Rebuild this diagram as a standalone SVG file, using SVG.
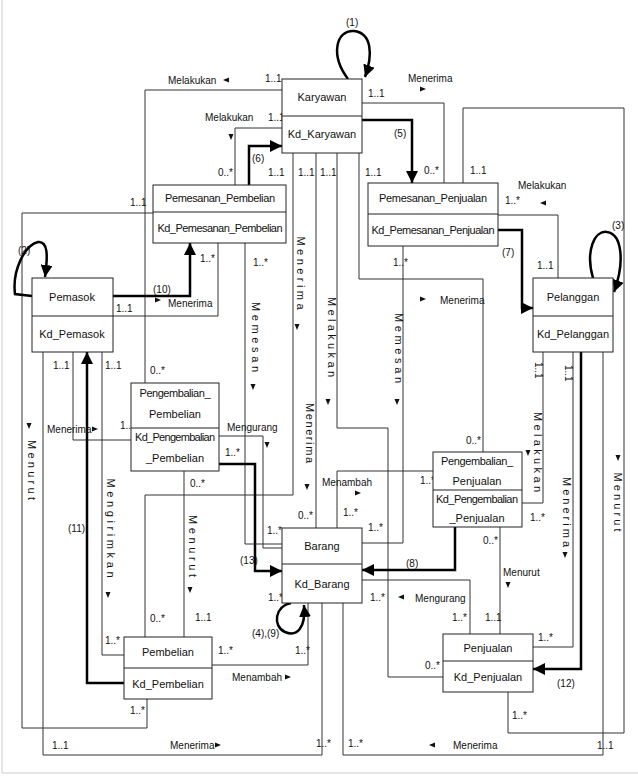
<svg xmlns="http://www.w3.org/2000/svg" width="638" height="782" viewBox="0 0 638 782">
<style>
.box{fill:#fff;stroke:#222;stroke-width:1}
.dv{stroke:#222;stroke-width:1}
.nt{font-family:"Liberation Sans",Arial,sans-serif;font-size:11px;fill:#111;text-anchor:middle}
.c{fill:none;stroke:#333;stroke-width:1}
.t{fill:none;stroke:#000;stroke-width:2.5}
.lb{font-family:"Liberation Sans",Arial,sans-serif;font-size:10px;fill:#111}
.v{font-family:"Liberation Sans",Arial,sans-serif;font-size:11px;fill:#111;text-anchor:middle}
.frame{fill:none;stroke:#ccc;stroke-width:1}
</style>
<defs>
<marker id="ah" markerUnits="userSpaceOnUse" markerWidth="14" markerHeight="12" refX="12" refY="6" orient="auto"><path d="M0,0 L12,6 L0,12 Z" fill="#000"/></marker>
<path id="ar" d="M-3,-2.5 L3,0 L-3,2.5 Z" fill="#111"/>
</defs>
<rect width="638" height="782" fill="#fff"/>
<path class="frame" d="M2,0 V773 H638"/>

<g id="connectors">
<path class="c" d="M282,90 H145 V383"/>
<path class="c" d="M282,128 H235 V185"/>
<path class="c" d="M362,103 H444 V183"/>
<path class="c" d="M463,183 V108 H624 V733 H508 V692"/>
<path class="c" d="M498,215 H558 V278"/>
<path class="c" d="M359,153 V279 H483 V452"/>
<path class="c" d="M403,246 V543 H362"/>
<path class="c" d="M245,243 V544 H282"/>
<path class="c" d="M293,153 V495 H145 V637"/>
<path class="c" d="M316,153 V528"/>
<path class="c" d="M337,153 V428 H388 V677 H443"/>
<path class="c" d="M543,352 V503 H522"/>
<path class="c" d="M573,352 V647 H533"/>
<path class="c" d="M603,352 V755 H343 V603"/>
<path class="c" d="M43,352 V755 H322 V603"/>
<path class="c" d="M153,213 H22 V728 H147 V699"/>
<path class="c" d="M73,352 V440 H131"/>
<path class="c" d="M102,352 V655 H124"/>
<path class="c" d="M184,471 V637"/>
<path class="c" d="M113,316 H218 V243"/>
<path class="c" d="M219,436 H263 V548 H282"/>
<path class="c" d="M212,665 H308 V603"/>
<path class="c" d="M433,471 H337 V528"/>
<path class="c" d="M500,527 V634"/>
<path class="c" d="M362,580 H470 V634"/>
<path class="t" d="M348,79 C330,55 336,30 354,31 C372,33 373,55 365,77" marker-end="url(#ah)"/>
<path class="t" d="M362,120 H412 V183" marker-end="url(#ah)"/>
<path class="t" d="M249,185 V146 H282" marker-end="url(#ah)"/>
<path class="t" d="M498,230 H522 V308 H533" marker-end="url(#ah)"/>
<path class="t" d="M593,278 C585,250 595,230 607,232 C622,234 625,262 614,292" marker-end="url(#ah)"/>
<path class="t" d="M32,296 L15,294 C12,270 25,245 38,242 C48,241 48,255 45,277" marker-end="url(#ah)"/>
<path class="t" d="M113,296 H190 V243" marker-end="url(#ah)"/>
<path class="t" d="M124,683 H87 V352" marker-end="url(#ah)"/>
<path class="t" d="M219,464 H255 V571 H282" marker-end="url(#ah)"/>
<path class="t" d="M291,603 C275,606 272,626 285,632 C297,637 306,628 304,605" marker-end="url(#ah)"/>
<path class="t" d="M455,527 V570 H362" marker-end="url(#ah)"/>
<path class="t" d="M581,352 V669 H533" marker-end="url(#ah)"/>

<use href="#ar" transform="translate(226,80) rotate(180)"/>
<use href="#ar" transform="translate(423,89)"/>
<use href="#ar" transform="translate(543,203) rotate(180)"/>
<use href="#ar" transform="translate(423,299)"/>
<use href="#ar" transform="translate(432,745) rotate(180)"/>
<use href="#ar" transform="translate(218,745)"/>
<use href="#ar" transform="translate(95,429)"/>
<use href="#ar" transform="translate(288,677)"/>
<use href="#ar" transform="translate(358,493)"/>
<use href="#ar" transform="translate(401,597) rotate(180)"/>
<use href="#ar" transform="translate(158,300)"/>
<use href="#ar" transform="translate(231,137) rotate(90)"/>
<use href="#ar" transform="translate(297,327) rotate(90)"/>
<use href="#ar" transform="translate(328,402) rotate(90)"/>
<use href="#ar" transform="translate(253,387) rotate(90)"/>
<use href="#ar" transform="translate(397,402) rotate(90)"/>
<use href="#ar" transform="translate(307,487) rotate(90)"/>
<use href="#ar" transform="translate(29,426) rotate(90)"/>
<use href="#ar" transform="translate(108,595) rotate(90)"/>
<use href="#ar" transform="translate(190,590) rotate(90)"/>
<use href="#ar" transform="translate(528,453) rotate(90)"/>
<use href="#ar" transform="translate(565,555) rotate(90)"/>
<use href="#ar" transform="translate(618,458) rotate(90)"/>
<use href="#ar" transform="translate(267,445) rotate(90)"/>
<use href="#ar" transform="translate(508,585) rotate(90)"/>

<text class="lb" x="168" y="84">Melakukan</text>
<text class="lb" x="205" y="121">Melakukan</text>
<text class="lb" x="408" y="82">Menerima</text>
<text class="lb" x="518" y="189">Melakukan</text>
<text class="lb" x="440" y="304">Menerima</text>
<text class="lb" x="168" y="307">Menerima</text>
<text class="lb" x="47" y="433">Menerima</text>
<text class="lb" x="227" y="431">Mengurang</text>
<text class="lb" x="322" y="486">Menambah</text>
<text class="lb" x="503" y="576">Menurut</text>
<text class="lb" x="415" y="602">Mengurang</text>
<text class="lb" x="232" y="681">Menambah</text>
<text class="lb" x="170" y="749">Menerima</text>
<text class="lb" x="453" y="749">Menerima</text>

<text class="v" transform="translate(297,273) rotate(90)" textLength="73">Menerima</text>
<text class="v" transform="translate(328,337) rotate(90)" textLength="80">Melakukan</text>
<text class="v" transform="translate(252,337) rotate(90)" textLength="70">Memesan</text>
<text class="v" transform="translate(395,348) rotate(90)" textLength="70">Memesan</text>
<text class="v" transform="translate(306,433) rotate(90)" textLength="60">Menerima</text>
<text class="v" transform="translate(28,470) rotate(90)" textLength="60">Menurut</text>
<text class="v" transform="translate(107,528) rotate(90)" textLength="99">Mengirimkan</text>
<text class="v" transform="translate(189,546) rotate(90)" textLength="62">Menurut</text>
<text class="v" transform="translate(534,452) rotate(90)" textLength="80">Melakukan</text>
<text class="v" transform="translate(563,512) rotate(90)" textLength="70">Menerima</text>
<text class="v" transform="translate(614,502) rotate(90)" textLength="59">Menurut</text>

<text class="lb" x="265" y="82">1..1</text>
<text class="lb" x="268" y="121">1..1</text>
<text class="lb" x="368" y="97">1..1</text>
<text class="lb" x="218" y="176">0..*</text>
<text class="lb" x="424" y="174">0..*</text>
<text class="lb" x="470" y="174">1..1</text>
<text class="lb" x="505" y="204">1..*</text>
<text class="lb" x="537" y="269">1..1</text>
<text class="lb" x="268" y="176">1..1</text>
<text class="lb" x="298" y="176">1..1</text>
<text class="lb" x="320" y="176">1..1</text>
<text class="lb" x="365" y="176">1..1</text>
<text class="lb" x="130" y="206">1..1</text>
<text class="lb" x="200" y="262">1..*</text>
<text class="lb" x="253" y="266">1..*</text>
<text class="lb" x="393" y="266">1..*</text>
<text class="lb" x="116" y="312">1..1</text>
<text class="lb" x="53" y="369">1..1</text>
<text class="lb" x="105" y="369">1..1</text>
<text class="lb" x="150" y="374">0..*</text>
<text class="lb" x="120" y="429">1..*</text>
<text class="lb" x="225" y="456">1..*</text>
<text class="lb" x="190" y="487">0..*</text>
<text class="lb" x="466" y="444">0..*</text>
<text class="lb" x="420" y="484">1..*</text>
<text class="lb" x="530" y="521">1..*</text>
<text class="lb" x="483" y="544">0..*</text>
<text class="lb" x="298" y="519">0..*</text>
<text class="lb" x="343" y="516">1..*</text>
<text class="lb" x="267" y="534">1..*</text>
<text class="lb" x="368" y="531">1..*</text>
<text class="lb" x="370" y="601">1..*</text>
<text class="lb" x="268" y="601">1..*</text>
<text class="lb" x="452" y="621">1..*</text>
<text class="lb" x="485" y="621">1..1</text>
<text class="lb" x="538" y="641">1..*</text>
<text class="lb" x="425" y="669">0..*</text>
<text class="lb" x="150" y="622">0..*</text>
<text class="lb" x="195" y="621">1..1</text>
<text class="lb" x="105" y="644">1..*</text>
<text class="lb" x="218" y="654">1..*</text>
<text class="lb" x="295" y="654">1..*</text>
<text class="lb" x="130" y="714">1..*</text>
<text class="lb" x="512" y="719">1..*</text>
<text class="lb" x="52" y="749">1..1</text>
<text class="lb" x="316" y="747">1..*</text>
<text class="lb" x="348" y="747">1..*</text>
<text class="lb" x="597" y="749">1..1</text>
<text class="lb" transform="translate(535,362) rotate(90)">1..1</text>
<text class="lb" transform="translate(565,365) rotate(90)">1..1</text>

<text class="lb" x="346" y="26">(1)</text>
<text class="lb" x="394" y="137">(5)</text>
<text class="lb" x="252" y="162">(6)</text>
<text class="lb" x="502" y="256">(7)</text>
<text class="lb" x="612" y="229">(3)</text>
<text class="lb" x="18" y="254">(2)</text>
<text class="lb" x="153" y="293">(10)</text>
<text class="lb" x="68" y="532">(11)</text>
<text class="lb" x="240" y="564">(13)</text>
<text class="lb" x="252" y="637">(4),(9)</text>
<text class="lb" x="406" y="567">(8)</text>
<text class="lb" x="557" y="687">(12)</text>
</g>

<g id="karyawan"><rect class="box" x="282" y="79" width="80" height="74"/><line class="dv" x1="282" y1="116" x2="362" y2="116"/><text class="nt" x="322" y="101">Karyawan</text><text class="nt" x="322" y="138">Kd_Karyawan</text></g>
<g id="pemesanan_pembelian"><rect class="box" x="153" y="185" width="133" height="58"/><line class="dv" x1="153" y1="212" x2="286" y2="212"/><text class="nt" x="220" y="202" textLength="110">Pemesanan_Pembelian</text><text class="nt" x="220" y="232" textLength="125">Kd_Pemesanan_Pembelian</text></g>
<g id="pemesanan_penjualan"><rect class="box" x="368" y="183" width="130" height="63"/><line class="dv" x1="368" y1="214" x2="498" y2="214"/><text class="nt" x="433" y="202" textLength="108">Pemesanan_Penjualan</text><text class="nt" x="433" y="234" textLength="123">Kd_Pemesanan_Penjualan</text></g>
<g id="pemasok"><rect class="box" x="32" y="278" width="81" height="74"/><line class="dv" x1="32" y1="316" x2="113" y2="316"/><text class="nt" x="72" y="301">Pemasok</text><text class="nt" x="72" y="338">Kd_Pemasok</text></g>
<g id="pelanggan"><rect class="box" x="533" y="278" width="80" height="74"/><line class="dv" x1="533" y1="316" x2="613" y2="316"/><text class="nt" x="573" y="301">Pelanggan</text><text class="nt" x="573" y="338">Kd_Pelanggan</text></g>
<g id="pengembalian_pembelian"><rect class="box" x="131" y="383" width="88" height="88"/><line class="dv" x1="131" y1="428" x2="219" y2="428"/><text class="nt" x="175" y="397" textLength="71">Pengembalian_</text><text class="nt" x="175" y="418">Pembelian</text><text class="nt" x="175" y="441" textLength="80">Kd_Pengembalian</text><text class="nt" x="175" y="462">_Pembelian</text></g>
<g id="pengembalian_penjualan"><rect class="box" x="433" y="452" width="89" height="75"/><line class="dv" x1="433" y1="490" x2="522" y2="490"/><text class="nt" x="477" y="465" textLength="72">Pengembalian_</text><text class="nt" x="477" y="485">Penjualan</text><text class="nt" x="477" y="503" textLength="82">Kd_Pengembalian</text><text class="nt" x="477" y="522">_Penjualan</text></g>
<g id="barang"><rect class="box" x="282" y="528" width="80" height="75"/><line class="dv" x1="282" y1="564" x2="362" y2="564"/><text class="nt" x="322" y="550">Barang</text><text class="nt" x="322" y="588">Kd_Barang</text></g>
<g id="pembelian"><rect class="box" x="124" y="637" width="88" height="62"/><line class="dv" x1="124" y1="668" x2="212" y2="668"/><text class="nt" x="168" y="656">Pembelian</text><text class="nt" x="168" y="688">Kd_Pembelian</text></g>
<g id="penjualan"><rect class="box" x="443" y="634" width="90" height="58"/><line class="dv" x1="443" y1="661" x2="533" y2="661"/><text class="nt" x="488" y="652">Penjualan</text><text class="nt" x="488" y="681">Kd_Penjualan</text></g>
</svg>
